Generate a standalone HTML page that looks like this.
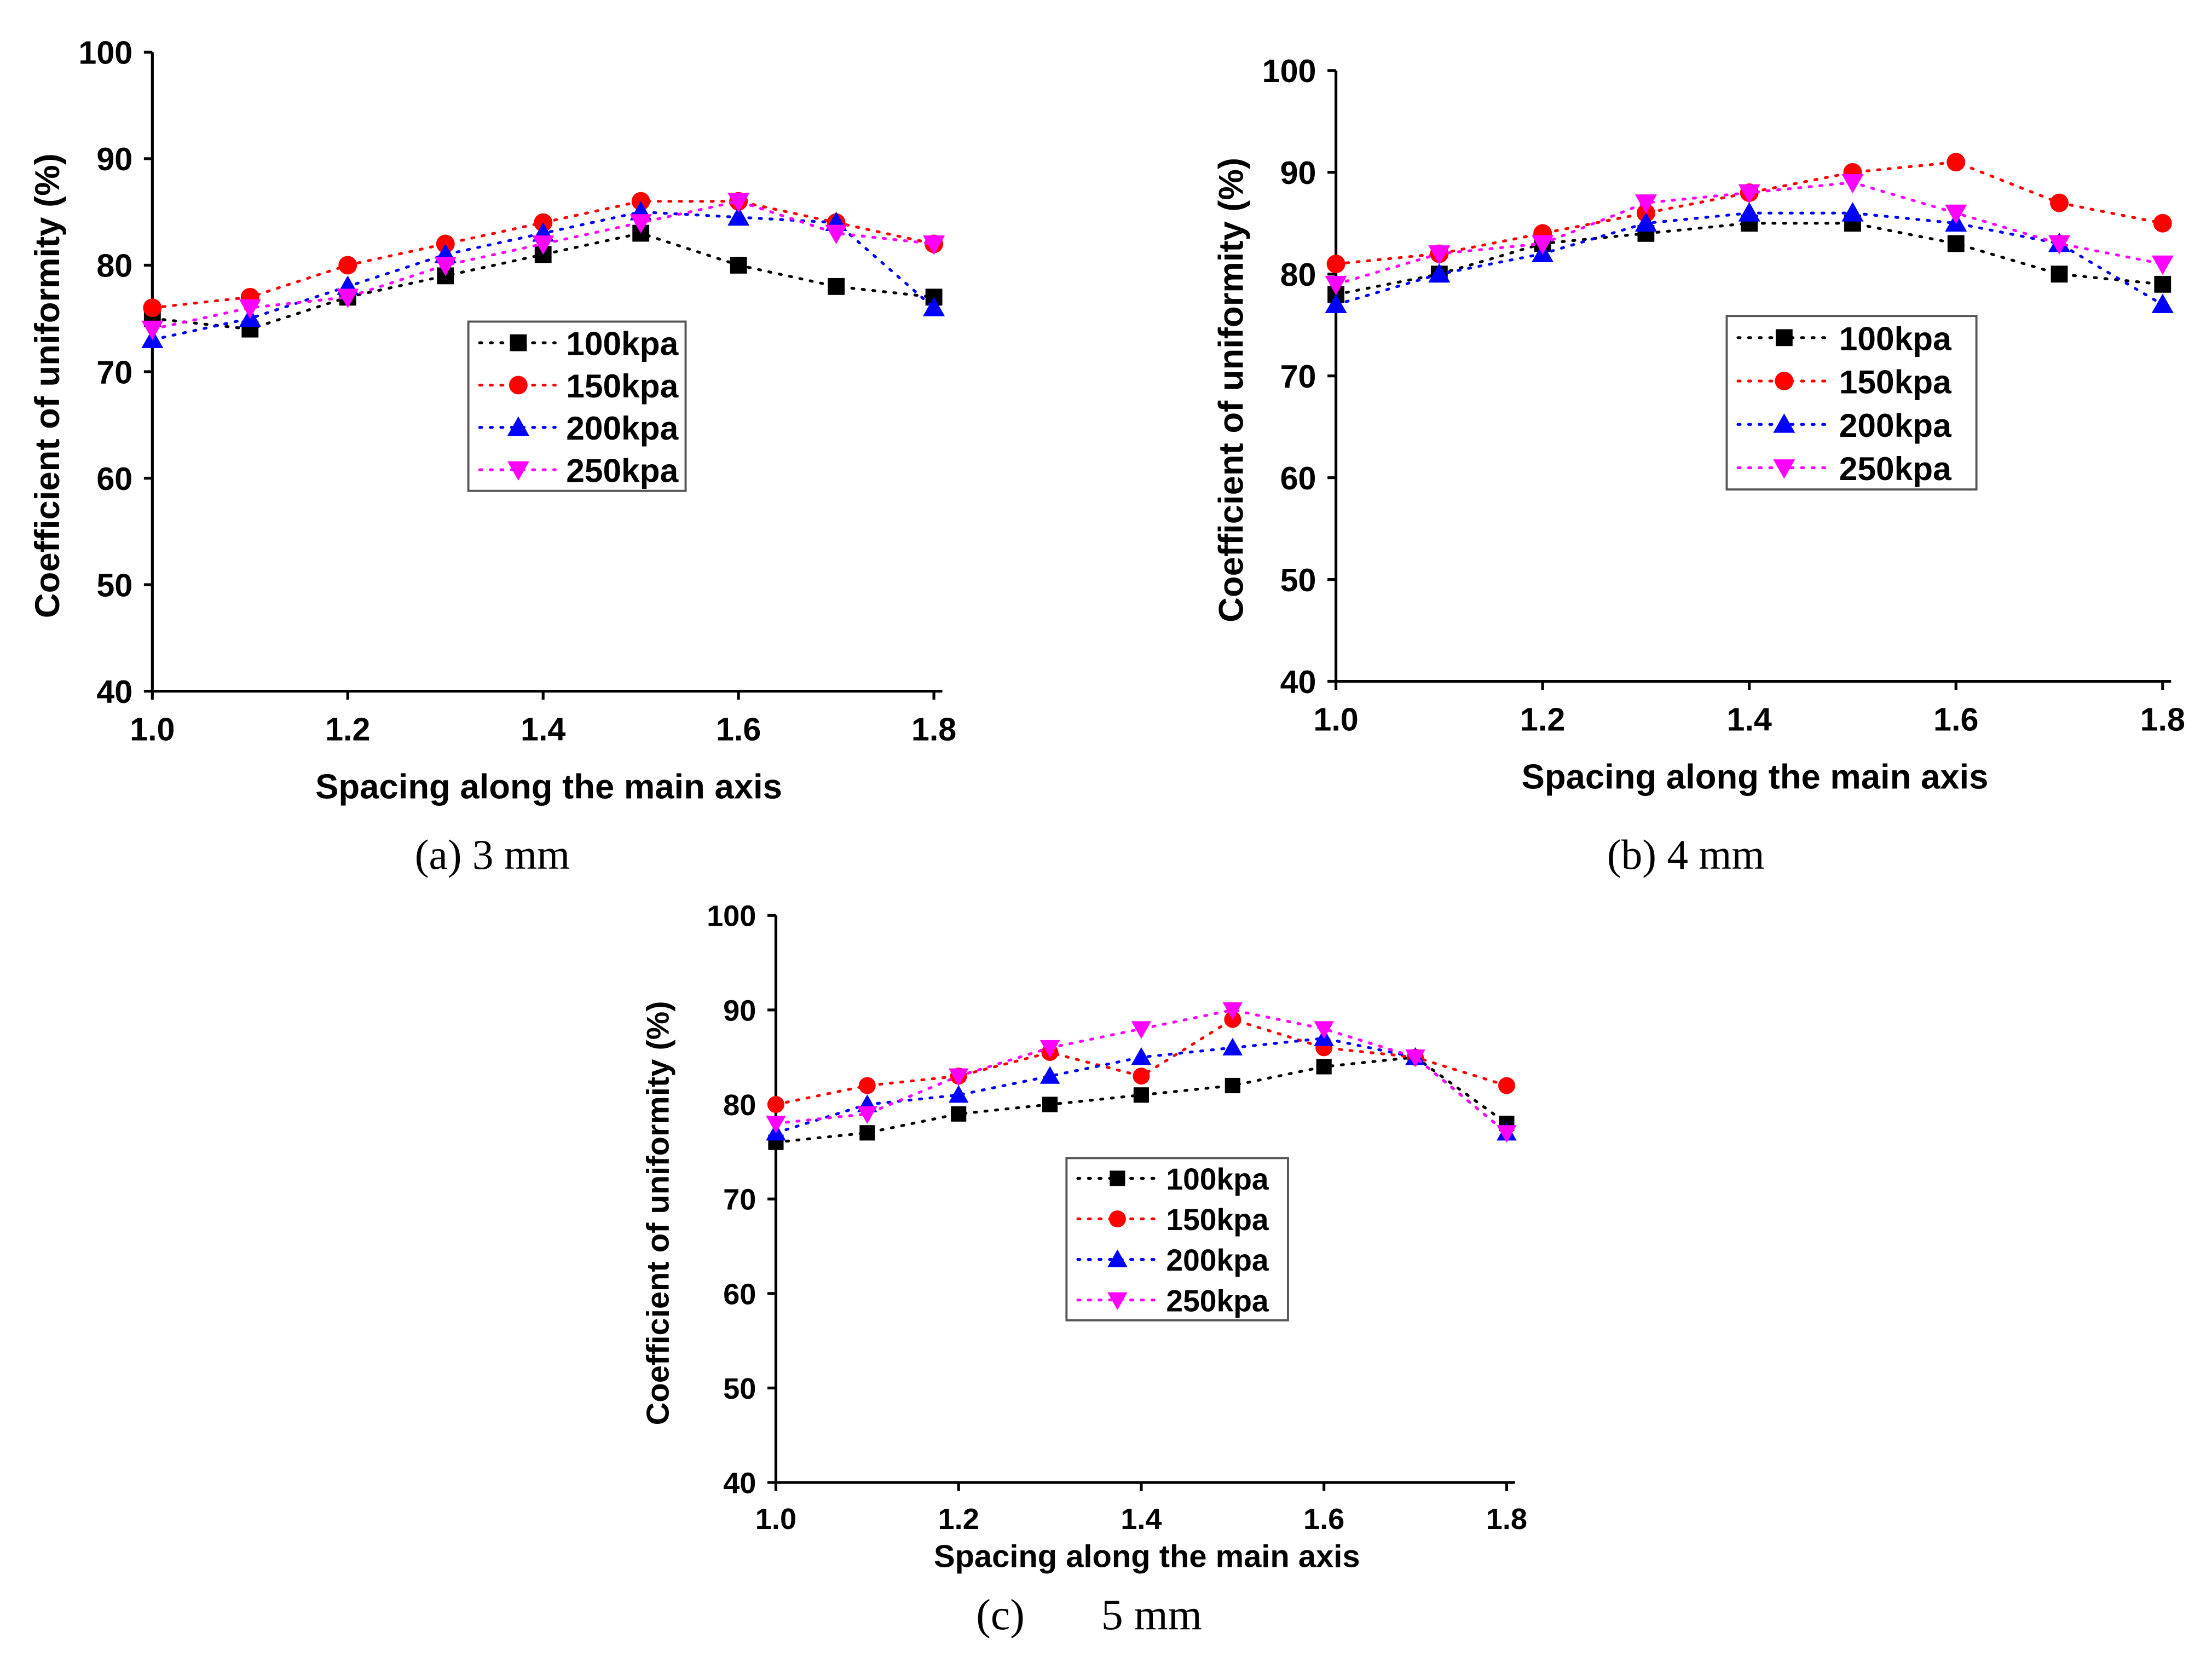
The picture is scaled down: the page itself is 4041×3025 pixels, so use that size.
<!DOCTYPE html>
<html><head><meta charset="utf-8"><style>
html,body{margin:0;padding:0;background:#fff;}
svg{display:block;}
text{font-family:"Liberation Sans",Arial,sans-serif;font-weight:bold;fill:#000;}
.cap{font-family:"Liberation Serif",serif;font-weight:normal;}
</style></head><body>
<svg id="fig" xmlns="http://www.w3.org/2000/svg" width="4041" height="3025" viewBox="0 0 1568 1174" preserveAspectRatio="none">
<text class="cap" x="349" y="616" font-size="30" text-anchor="middle">(a) 3 mm</text>
<text class="cap" x="1195" y="616" font-size="30" text-anchor="middle">(b) 4 mm</text>
<text class="cap" x="772" y="1155" font-size="31" text-anchor="middle" xml:space="preserve">(c)       5 mm</text>
</svg>
<script>
const xCats = [1.0,1.1,1.2,1.3,1.4,1.5,1.6,1.7,1.8];
const xTicks = ["1.0","1.2","1.4","1.6","1.8"];
const yTicks = [40,50,60,70,80,90,100];
const seriesNames = ["100kpa","150kpa","200kpa","250kpa"];
const a100 = [75,74,77,79,81,83,80,78,77];
const a150 = [76,77,80,82,84,86,86,84,82];
const a200 = [73,75,78,81,83,85,84.5,84,76];
const a250 = [74,76,77,80,82,84,86,83,82];
const b100 = [78,80,83,84,85,85,83,80,79];
const b150 = [81,82,84,86,88,90,91,87,85];
const b200 = [77,80,82,85,86,86,85,83,77];
const b250 = [79,82,83,87,88,89,86,83,81];
const c100 = [76,77,79,80,81,82,84,85,78];
const c150 = [80,82,83,85.5,83,89,86,85,82];
const c200 = [77,80,81,83,85,86,87,85,77];
const c250 = [78,79,83,86,88,90,88,85,77];

const colors = ["#000","#f00","#00f","#f0f"];
const NS = "http://www.w3.org/2000/svg";
const svg = document.getElementById('fig');
function mk(tag, attrs, parent){const e=document.createElementNS(NS,tag);for(const k in attrs)e.setAttribute(k,attrs[k]);(parent||svg).appendChild(e);return e;}

function marker(g, i, x, y, s){
  let e;
  if(i===0){e=mk('rect',{x:x-s,y:y-s,width:2*s,height:2*s,fill:colors[0]},g);}
  else if(i===1){e=mk('circle',{cx:x,cy:y,r:s*1.1,fill:colors[1]},g);}
  else if(i===2){e=mk('polygon',{points:`${x},${y-s*1.3} ${x-s*1.3},${y+s} ${x+s*1.3},${y+s}`,fill:colors[2]},g);}
  else {e=mk('polygon',{points:`${x},${y+s*1.3} ${x-s*1.3},${y-s} ${x+s*1.3},${y-s}`,fill:colors[3]},g);}
  return e;
}

function chart(id, box, data, fs, leg, xtOff, ytOff){
  const g = mk('g',{});
  
  
  const X = v => box.x0 + (v-1.0)/0.8*(box.x1-box.x0);
  const Y = v => box.y1 - (v-40)/60*(box.y1-box.y0);
  const ax = mk('path',{d:`M${box.x0},${box.y0} V${box.y1} H${box.x1+6}`,stroke:'#000','stroke-width':2,fill:'none'},g);
  
  
  yTicks.forEach(t=>{
    mk('line',{x1:box.x0-6,x2:box.x0,y1:Y(t),y2:Y(t),stroke:'#000','stroke-width':2},g);
    const tx = mk('text',{x:box.x0-14,y:Y(t)+fs*0.36,'font-size':fs,'text-anchor':'end'},g);
    tx.textContent=t;
    
    
  });
  xTicks.forEach(t=>{
    const v=parseFloat(t);
    mk('line',{x1:X(v),x2:X(v),y1:box.y1,y2:box.y1+6,stroke:'#000','stroke-width':2},g);
    const tx = mk('text',{x:X(v),y:box.y1+fs+12,'font-size':fs,'text-anchor':'middle'},g);
    tx.textContent=t;
    
    
  });
  const xt = mk('text',{x:(box.x0+box.x1)/2+4,y:box.y1+xtOff,'font-size':fs*1.07,'text-anchor':'middle'},g);
  xt.textContent='Spacing along the main axis';
  
  
  const yc=(box.y0+box.y1)/2+10, yx=box.x0-ytOff;
  const yt = mk('text',{x:yx,y:yc,'font-size':fs*1.07,'text-anchor':'middle',transform:`rotate(-90 ${yx} ${yc})`},g);
  yt.textContent='Coefficient of uniformity (%)';
  
  
  const ms = fs*0.26;
  data.forEach((arr,i)=>{
    const pts = arr.map((v,k)=>X(xCats[k])+','+Y(v)).join(' ');
    const pl = mk('polyline',{points:pts,fill:'none',stroke:colors[i],'stroke-width':2,'stroke-dasharray':'1.5 6','stroke-linecap':'round'},g);
    
    
    arr.forEach((v,k)=>{
      const m = marker(g,i,X(xCats[k]),Y(v),ms);
      
      
    });
  });
  const lg = mk('g',{},g);
  
  
  mk('rect',{x:leg.x,y:leg.y,width:leg.w,height:leg.h,fill:'#fff',stroke:'#555','stroke-width':1.5},lg);
  const rh = leg.h/4;
  seriesNames.forEach((n,i)=>{
    const cy = leg.y + rh*(i+0.5);
    const e = mk('g',{},lg);
    
    
    mk('line',{x1:leg.x+8,x2:leg.x+leg.w*0.4,y1:cy,y2:cy,stroke:colors[i],'stroke-width':2,'stroke-dasharray':'1.5 6','stroke-linecap':'round'},e);
    marker(e,i,leg.x+leg.w*0.23,cy,ms);
    const t = mk('text',{x:leg.x+leg.w*0.45,y:cy+fs*0.38,'font-size':fs*1.02},e);
    t.textContent=n;
  });
}

chart('a',{x0:108,x1:662,y0:37,y1:490},[a100,a150,a200,a250],23,{x:332,y:228,w:154,h:120},76,66);
chart('b',{x0:947,x1:1533,y0:50,y1:483},[b100,b150,b200,b250],23,{x:1224,y:224,w:177,h:123},76,66);
chart('c',{x0:550,x1:1068,y0:649,y1:1051},[c100,c150,c200,c250],21,{x:756,y:821,w:157,h:115},60,76);
</script>
</body></html>
